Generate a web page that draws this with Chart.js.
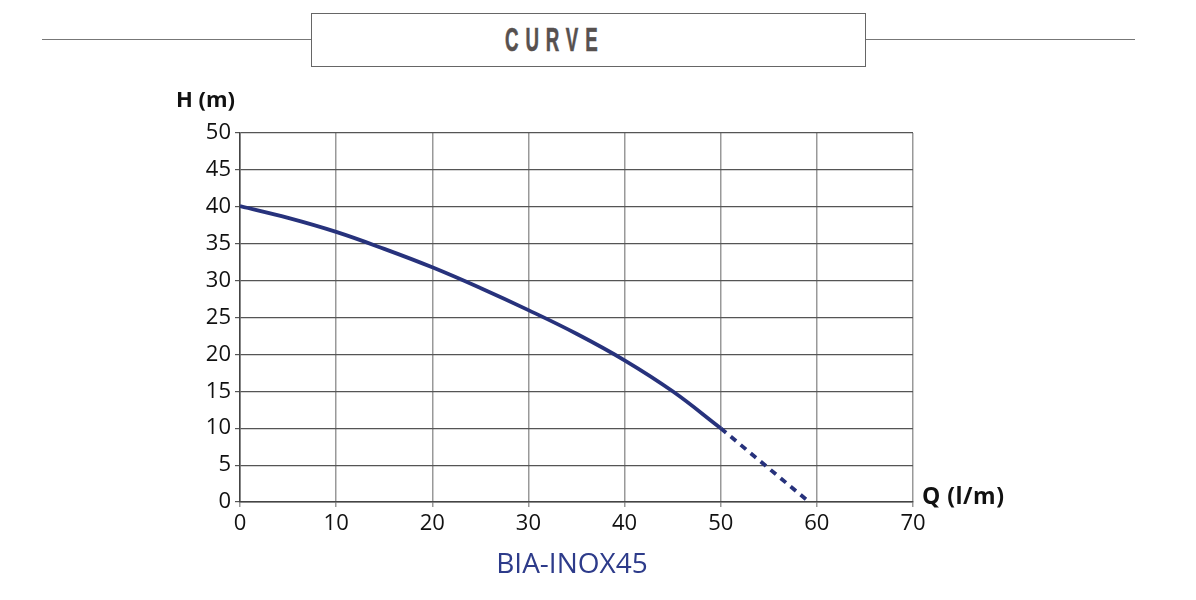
<!DOCTYPE html>
<html>
<head>
<meta charset="utf-8">
<script src="https://cdn.jsdelivr.net/npm/chart.js@4.4.1/dist/chart.umd.min.js"></script>
<style>
  html, body { margin: 0; padding: 0; background: #fff; }
  #wrap { position: relative; width: 1196px; height: 600px; overflow: hidden; }
  #chart { position: absolute; left: 0; top: 0; }
  .rule { position: absolute; top: 39px; height: 0; border-top: 1.5px solid #777; }
  #titlebox {
    position: absolute; left: 311px; top: 13px; width: 553px; height: 52px;
    border: 1.5px solid #666; background: #fff;
  }
  #titletext {
    position: absolute; left: 505px; top: 22px; white-space: nowrap;
    font-family: "Liberation Sans", "DejaVu Sans", sans-serif;
    font-weight: bold; font-size: 34px; line-height: 34px; letter-spacing: 12.5px; color: #57514f;
    transform: scaleX(0.55); transform-origin: left top;
    -webkit-text-stroke: 0.6px #57514f;
  }
  .lbl { position: absolute; font-family: "Open Sans", sans-serif; font-weight: bold; color: #111; white-space: nowrap; }
  #model { position: absolute; left: 0; width: 1144px; text-align: center; top: 543px;
    font-family: "Open Sans", sans-serif; font-size: 28px; color: #2d3b8a; }
</style>
</head>
<body>
<div id="wrap">
  <canvas id="chart" width="1196" height="600"></canvas>
  <div class="rule" style="left:42px; width:269px;"></div>
  <div class="rule" style="left:866px; width:269px;"></div>
  <div id="titlebox"></div>
  <div id="titletext">CURVE</div>
  <div class="lbl" style="left:176px; top:83px; font-size:22px;">H (m)</div>
  <div class="lbl" style="left:922px; top:479px; font-size:23px; letter-spacing:0.5px;">Q (l/m)</div>
  <div id="model">BIA-INOX45</div>
</div>
<script>
// pump curve
var flowSolid = [0, 5, 10, 15, 20, 25, 30, 35, 40, 45, 50];
var headSolid = [40.1, 38.5, 36.6, 34.3, 31.8, 29.0, 26.0, 22.8, 19.2, 15.0, 10.0];
var flowDash = [50, 59.2];
var headDash = [10, 0];
var flowTicks = [0, 10, 20, 30, 40, 50, 60, 70];
var headTicks = [0, 5, 10, 15, 20, 25, 30, 35, 40, 45, 50];

var lineColor = '#27327c';

function pts(xs, ys) {
  var out = [];
  for (var i = 0; i < xs.length; i++) out.push({ x: xs[i], y: ys[i] });
  return out;
}

var ctx = document.getElementById('chart').getContext('2d');
new Chart(ctx, {
  type: 'scatter',
  data: {
    datasets: [
      {
        data: pts(flowSolid, headSolid),
        showLine: true,
        borderColor: lineColor,
        borderWidth: 3.8,
        pointRadius: 0,
        tension: 0.4
      },
      {
        data: pts(flowDash, headDash),
        showLine: true,
        borderColor: lineColor,
        borderWidth: 3.8,
        borderDash: [7, 6],
        pointRadius: 0
      }
    ]
  },
  options: {
    responsive: false,
    animation: false,
    layout: { padding: { left: 190, right: 283, top: 133, bottom: 58 } },
    plugins: { legend: { display: false }, tooltip: { enabled: false } },
    scales: {
      x: {
        type: 'linear',
        min: 0,
        max: 70,
        afterFit: function (s) { s.height = 40; },
        afterBuildTicks: function (s) { s.ticks = flowTicks.map(function (v) { return { value: v }; }); },
        ticks: { font: { family: 'Open Sans', size: 22 }, color: '#111', padding: 4, maxRotation: 0 },
        grid: { color: '#999', lineWidth: 1.5, tickLength: 5 },
        border: { color: '#444', width: 1.5 }
      },
      y: {
        min: 0,
        max: 50,
        afterFit: function (s) { s.width = 50; },
        afterBuildTicks: function (s) { s.ticks = headTicks.map(function (v) { return { value: v }; }); },
        ticks: { font: { family: 'Open Sans', size: 22 }, color: '#111', padding: 4 },
        grid: { color: '#555', lineWidth: 1.2, tickLength: 5 },
        border: { color: '#444', width: 1.5 }
      }
    }
  }
});
</script>
</body>
</html>
